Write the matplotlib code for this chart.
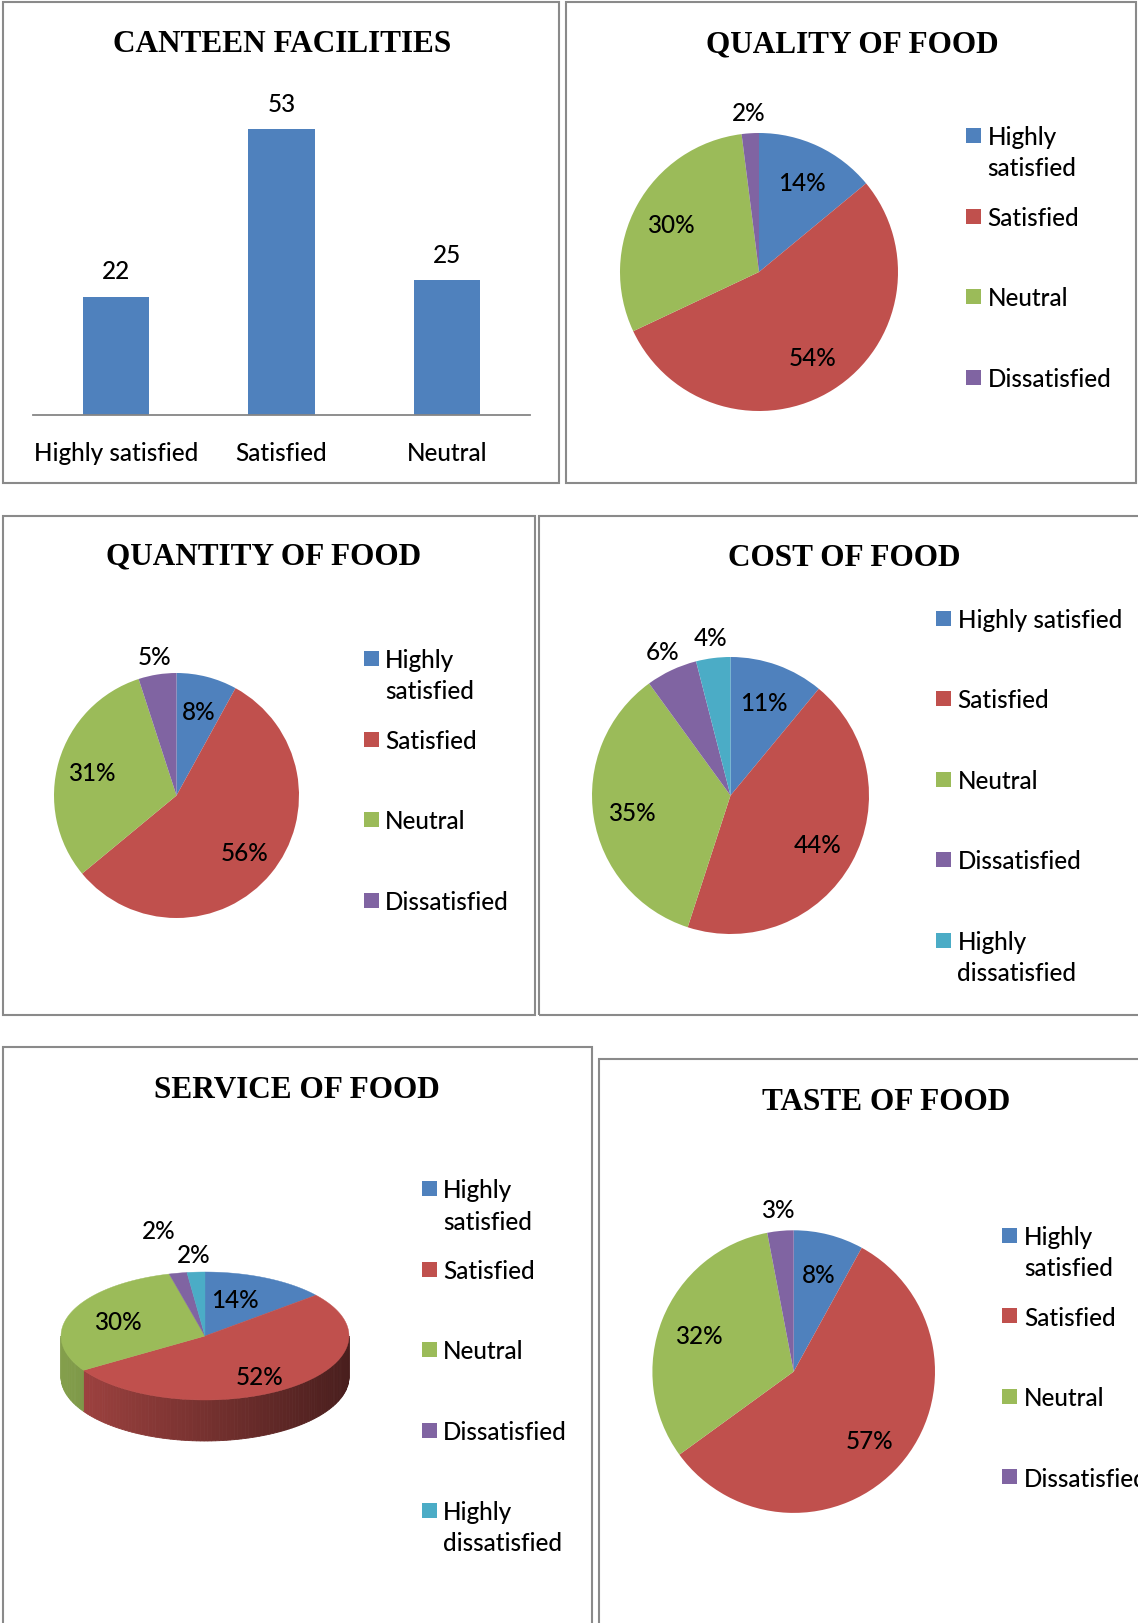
import numpy as np
import matplotlib.pyplot as plt
from matplotlib.patches import Rectangle, Polygon
import matplotlib.colors as mcolors

W, H = 1138, 1624

# office 2007 palette
BLUE = '#4F81BD'
RED = '#C0504D'
GREEN = '#9BBB59'
PURPLE = '#8064A2'
CYAN = '#4BACC6'
slice_colors = [BLUE, RED, GREEN, PURPLE, CYAN]

# data
bar_categories = ['Highly satisfied', 'Satisfied', 'Neutral']
bar_values = [22, 53, 25]

labels4 = ['Highly\nsatisfied', 'Satisfied', 'Neutral', 'Dissatisfied']
labels5_cost = ['Highly satisfied', 'Satisfied', 'Neutral', 'Dissatisfied', 'Highly\ndissatisfied']
labels5 = ['Highly\nsatisfied', 'Satisfied', 'Neutral', 'Dissatisfied', 'Highly\ndissatisfied']

quality = [14, 54, 30, 2]
quantity = [8, 56, 31, 5]
cost = [11, 44, 35, 6, 4]
service = [14, 52, 30, 2, 2]
taste = [8, 57, 32, 3]

SANS = ['Lato', 'DejaVu Sans']
SERIF = ['Liberation Serif', 'DejaVu Serif']
FS = 17.5
FW = 'medium'
TFS = 22.5
CAP = 8.7  # half cap height in px for body text

fig = plt.figure(figsize=(W / 100, H / 100), dpi=100)


def fx(x):
    return x / W


def fy(y):
    return 1 - y / H


def panel_box(x0, y0, x1, y1):
    fig.add_artist(Rectangle((fx(x0), fy(y1)), (x1 - x0) / W, (y1 - y0) / H,
                             transform=fig.transFigure, fill=False,
                             ec='#8a8a8a', lw=1.5))


def title(x, y, s):
    fig.text(fx(x), fy(y + 10.4), s, ha='center', va='baseline',
             family=SERIF, weight='bold', fontsize=TFS)


def legend(mx, y0, labels, colors, step=80.5):
    for i, (lab, c) in enumerate(zip(labels, colors)):
        yc = y0 + i * step
        fig.add_artist(Rectangle((fx(mx), fy(yc + 7.5)), 15 / W, 15 / H,
                                 transform=fig.transFigure, fc=c, ec='none'))
        for j, line in enumerate(lab.split('\n')):
            fig.text(fx(mx + 21.5), fy(yc + CAP + j * 31), line, ha='left',
                     va='baseline', family=SANS, fontsize=FS, weight=FW)


def pie_chart(cx, cy, r, values):
    ax = fig.add_axes([fx(cx - r), fy(cy + r), 2 * r / W, 2 * r / H])
    ax.pie(values, colors=slice_colors[:len(values)], startangle=90,
           counterclock=False, wedgeprops=dict(linewidth=0))
    ax.set_xlim(-1, 1)
    ax.set_ylim(-1, 1)
    ax.set_aspect('equal')
    ax.axis('off')
    total = float(sum(values))
    cum = 0
    for v in values:
        mid = np.deg2rad((cum + v / 2) / total * 360)
        cum += v
        d = 0.72 if v > 6 else 1.16
        ax.annotate(f'{v}%', xy=(d * np.sin(mid), d * np.cos(mid)),
                    xytext=(0, -CAP), textcoords='offset pixels',
                    ha='center', va='baseline', family=SANS, fontsize=FS,
                    weight=FW, annotation_clip=False)


def shade(c, f):
    rgb = np.array(mcolors.to_rgb(c))
    return tuple(rgb * f)


def pie_3d(cx, cy, rx, ry, depth, values):
    ax = fig.add_axes([0, 0, 1, 1])
    ax.set_xlim(0, W)
    ax.set_ylim(H, 0)
    ax.axis('off')

    def pt(t):
        t = np.deg2rad(t)
        return cx + rx * np.sin(t), cy - ry * np.cos(t)

    total = float(sum(values))
    bounds = np.cumsum([0] + list(values)) / total * 360
    # side walls (front half only)
    for i, v in enumerate(values):
        lo, hi = max(bounds[i], 90), min(bounds[i + 1], 270)
        if lo >= hi:
            continue
        angs = np.linspace(lo, hi, max(2, int((hi - lo) / 1.5) + 1))
        for a0, a1 in zip(angs[:-1], angs[1:]):
            x0, y0 = pt(a0)
            x1, y1 = pt(a1)
            xm = (x0 + x1) / 2
            f = 0.85 - 0.47 * (xm - (cx - rx)) / (2 * rx)
            col = shade(slice_colors[i], f)
            ax.add_patch(Polygon([(x0, y0), (x1, y1), (x1, y1 + depth), (x0, y0 + depth)],
                                 closed=True, fc=col, ec=col, lw=0.6))
    # top face
    for i, v in enumerate(values):
        angs = np.linspace(bounds[i], bounds[i + 1], max(2, int((bounds[i + 1] - bounds[i]) / 1.0) + 2))
        pts = [(cx, cy)] + [pt(a) for a in angs]
        ax.add_patch(Polygon(pts, closed=True, fc=slice_colors[i], ec=slice_colors[i], lw=0.3))
    # labels
    small = [i for i, v in enumerate(values) if v <= 6]
    out_d = {}
    for k, i in enumerate(reversed(small)):
        out_d[i] = 1.3 + 0.4 * k
    for i, v in enumerate(values):
        mid = (bounds[i] + bounds[i + 1]) / 2
        d = out_d.get(i, 0.65)
        t = np.deg2rad(mid)
        x = cx + d * rx * np.sin(t) * (0.75 if i == 0 else 1.0)
        y = cy - d * ry * np.cos(t)
        if i == 1:
            y += 6
        ax.text(x, y + CAP, f'{v}%', ha='center', va='baseline',
                family=SANS, fontsize=FS, weight=FW)


# panel frames
panel_box(3, 3, 559, 484)
panel_box(566, 3, 1136, 484)
panel_box(3, 517, 535, 1016)
panel_box(539, 517, 1145, 1016)
panel_box(3, 1048, 592, 1630)
panel_box(599, 1060, 1145, 1630)

# bar chart: canteen facilities
title(281.7, 41.4, 'CANTEEN FACILITIES')
base_y, top_y = 416.3, 92.6
axb = fig.add_axes([fx(33), fy(base_y), 497 / W, (base_y - top_y) / H])
xs = np.arange(len(bar_values))
axb.bar(xs, bar_values, width=0.4, color=BLUE)
axb.set_xlim(-0.5, 2.5)
axb.set_ylim(0, 60)
for s in ['left', 'right', 'top']:
    axb.spines[s].set_visible(False)
axb.spines['bottom'].set_color('#868686')
axb.spines['bottom'].set_linewidth(1.3)
axb.set_yticks([])
axb.set_xticks(xs, bar_categories)
axb.tick_params(axis='x', length=0, pad=18.5, labelsize=FS)
for lab in axb.get_xticklabels():
    lab.set_family(SANS)
    lab.set_weight(FW)
axb.patch.set_alpha(0)
for xi, v in zip(xs, bar_values):
    axb.annotate(str(v), xy=(xi, v), xytext=(0, 27 - CAP), textcoords='offset pixels',
                 ha='center', va='baseline', family=SANS, fontsize=FS, weight=FW)

# quality
title(852, 42.5, 'QUALITY OF FOOD')
pie_chart(759, 273, 139, quality)
legend(966, 136.7, labels4, slice_colors)

# quantity
title(264, 554, 'QUANTITY OF FOOD')
pie_chart(176.5, 796.5, 122.5, quantity)
legend(363.5, 659.6, labels4, slice_colors)

# cost
title(844, 556, 'COST OF FOOD')
pie_chart(730.5, 796.5, 138.5, cost)
legend(936, 619.2, labels5_cost, slice_colors)

# service (3-D look)
title(297, 1088, 'SERVICE OF FOOD')
pie_3d(205, 1337, 144, 64, 41, service)
legend(421.5, 1189.8, labels5, slice_colors)

# taste
title(886, 1100, 'TASTE OF FOOD')
pie_chart(793.7, 1372.6, 141.3, taste)
legend(1002.4, 1236.4, labels4, slice_colors)

fig.savefig('out.png', dpi=100)
